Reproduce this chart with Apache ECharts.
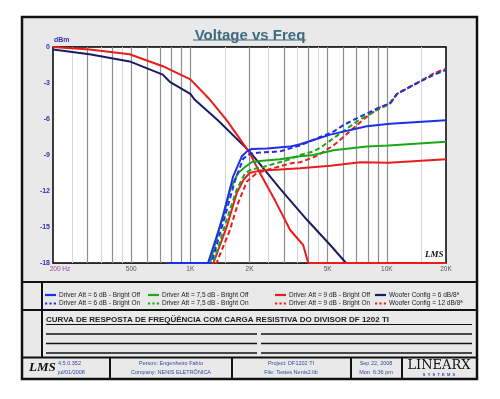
<!DOCTYPE html>
<html>
<head>
<meta charset="utf-8">
<script src="https://cdn.jsdelivr.net/npm/echarts@6/dist/echarts.min.js"></script>
<style>
  html, body { margin: 0; padding: 0; background: #fff; }
  #chart { width: 500px; height: 399px; }
</style>
</head>
<body>
<div id="chart"></div>
<script>
// frequency (Hz), level (dBm)
var driver6Off = [[760, -18], [1230, -18], [1470, -14.1], [1650, -10.8], [1830, -9.1], [1940, -8.7], [2050, -8.5], [2450, -8.45], [3220, -8.3], [3620, -8.1], [4230, -7.75], [5150, -7.3], [7900, -6.6], [10400, -6.4], [20000, -6.1]]
var driver6On = [[760, -18], [1280, -18], [1500, -14.1], [1690, -11.1], [1860, -9.3], [2010, -8.9], [2260, -8.8], [2860, -8.7], [3620, -8.2], [4580, -7.5], [5350, -7.05], [6020, -6.5], [7330, -5.8], [8240, -5.4], [9270, -5.0], [10400, -4.7], [11270, -3.9], [14260, -3.0], [17340, -2.3], [20000, -1.9]]
var driver75Off = [[760, -18], [1260, -18], [1410, -15], [1590, -11.9], [1750, -10.5], [1900, -10.0], [2050, -9.6], [2260, -9.5], [2860, -9.35], [3620, -9.1], [4230, -9.0], [5350, -8.6], [7900, -8.3], [10200, -8.2], [20000, -7.9]]
var driver75On = [[760, -18], [1310, -18], [1530, -14.4], [1720, -11.9], [1900, -10.5], [2050, -10.2], [2350, -10.0], [3220, -9.35], [3620, -9.0], [4230, -8.7], [4580, -8.4], [5150, -7.8], [5790, -7.2], [7050, -6.2], [8910, -5.25], [10200, -4.8], [11270, -3.9], [14260, -3.0], [17340, -2.3], [20000, -1.9]]
var driver9Off = [[760, -18], [1310, -18], [1530, -15], [1720, -12.2], [1860, -11.1], [2000, -10.5], [2260, -10.3], [2860, -10.2], [3620, -10.1], [5150, -9.9], [7330, -9.6], [10200, -9.65], [20000, -9.35]]
var driver9On = [[760, -18], [1360, -18], [1590, -15.25], [1750, -13.0], [1940, -11.2], [2180, -10.5], [2450, -10.25], [3220, -9.7], [3620, -9.6], [4230, -9.2], [4580, -8.9], [5350, -8.2], [6020, -7.5], [7050, -6.5], [7930, -5.8], [9270, -5.0], [10400, -4.7], [11270, -3.9], [14260, -3.0], [17340, -2.2], [20000, -1.8]]
var woofer6 = [[200, -0.2], [307, -0.6], [491, -1.2], [724, -2.3], [786, -2.9], [1000, -3.9], [1054, -4.4], [1380, -6.1], [2000, -8.7], [2860, -11.8], [3920, -14.4], [5150, -16.5], [6200, -18], [20000, -18]]
var woofer12 = [[200, 0], [307, -0.2], [491, -0.6], [724, -1.6], [1000, -2.7], [1260, -4.4], [1530, -6.1], [2000, -8.8], [2260, -10.5], [2700, -12.8], [3220, -15.25], [3750, -16.5], [3980, -18], [20000, -18]]

var majorGrid = [300, 400, 500, 600, 700, 800, 900, 1000, 2000, 3000, 4000, 5000, 6000, 7000, 8000, 9000, 10000]
var minorGrid = [250, 350, 450, 1500, 2500, 3500, 4500, 15000]
var freqTicks = [200, 500, 1000, 2000, 5000, 10000, 20000]
var freqTickLabels = ['200 Hz', '500', '1K', '2K', '5K', '10K', '20K']

var names = [
  'Driver Att = 6 dB - Bright Off', 'Driver Att = 6 dB - Bright On',
  'Driver Att = 7,5 dB - Bright Off', 'Driver Att = 7,5 dB - Bright On',
  'Driver Att = 9 dB - Bright Off', 'Driver Att = 9 dB - Bright On',
  'Woofer Config = 6 dB/8ª', 'Woofer Config = 12 dB/8ª'
]

var BLUE = '#1f2fe6'
var GREEN = '#18a818'
var RED = '#ea1c1c'
var NAVY = '#1c1c64'
var LABEL_BLUE = '#3232b4'
var FOOT_BLUE = '#34489c'

var SOLID_ICON = 'path://M0,0h10v2h-10z'
var DOTTED_ICON = 'path://M0,0h2v2h-2z M4,0h2v2h-2z M8,0h2v2h-2z'

function curve (name, data, color, dashed) {
  return {
    name: name,
    type: 'line',
    data: data,
    symbol: 'none',
    z: 3,
    lineStyle: { color: color, width: 2, type: dashed ? [5, 3] : 'solid' },
    itemStyle: { color: color }
  }
}

function legendCol (left, solidName, dottedName) {
  return {
    data: [{ name: solidName, icon: SOLID_ICON }, { name: dottedName, icon: DOTTED_ICON }],
    left: left,
    top: 291.5,
    orient: 'vertical',
    itemWidth: 11,
    itemHeight: 2.5,
    itemGap: 1.5,
    padding: 0,
    selectedMode: false,
    textStyle: { fontSize: 6.5, color: '#222', fontFamily: 'Arial', padding: [0, 0, 0, -2] }
  }
}

function hLine (x1, x2, y, w) {
  return { type: 'line', shape: { x1: x1, y1: y, x2: x2, y2: y }, style: { stroke: '#111', lineWidth: w || 2 } }
}
function vLine (x, y1, y2, w) {
  return { type: 'line', shape: { x1: x, y1: y1, x2: x, y2: y2 }, style: { stroke: '#111', lineWidth: w || 2 } }
}
function txt (x, y, text, font, fill, align) {
  return { type: 'text', z: 50, style: { x: x, y: y, text: text, font: font, fill: fill || '#222', textAlign: align || 'left', textVerticalAlign: 'middle' } }
}

var gridLines = majorGrid.map(function (f) {
  return { xAxis: f, lineStyle: { color: '#8e8e8e', width: 1.2, type: 'solid' } }
}).concat(minorGrid.map(function (f) {
  return { xAxis: f, lineStyle: { color: '#d6d6d6', width: 1, type: 'solid' } }
}))

var tickMarks = freqTicks.map(function (f, i) {
  return {
    xAxis: f,
    lineStyle: { color: 'rgba(0,0,0,0)', width: 0 },
    label: {
      show: true,
      position: 'start',
      distance: 3,
      formatter: freqTickLabels[i],
      color: i === 0 ? '#8a4a92' : '#555',
      padding: i === 0 ? [0, 0, 0, 14] : 0
    }
  }
})

var option = {
  animation: false,
  backgroundColor: '#fff',
  title: {
    text: 'Voltage vs Freq',
    left: 'center',
    top: 23,
    textStyle: { fontSize: 15, fontWeight: 'bold', color: '#3f6b7c', fontFamily: 'Arial' }
  },
  grid: {
    left: 53,
    top: 47,
    right: 54,
    bottom: 136,
    show: true,
    backgroundColor: '#fff',
    borderColor: '#000',
    borderWidth: 1.5,
    z: 1
  },
  xAxis: {
    type: 'log',
    logBase: 10,
    min: 200,
    max: 20000,
    axisLine: { show: false },
    axisTick: { show: false },
    axisLabel: { show: false },
    splitLine: { show: false }
  },
  yAxis: {
    type: 'value',
    min: -18,
    max: 0,
    interval: 3,
    name: 'dBm',
    nameLocation: 'end',
    nameGap: 1,
    nameTextStyle: { color: LABEL_BLUE, fontSize: 7, fontWeight: 'bold', fontFamily: 'Arial', align: 'left', padding: [0, 0, 0, 1] },
    axisLine: { show: false },
    axisTick: { show: false },
    axisLabel: { color: LABEL_BLUE, fontSize: 7, fontWeight: 'bold', fontFamily: 'Arial', margin: 3 },
    splitLine: { lineStyle: { color: '#8a8a8a', width: 1.5 } }
  },
  legend: [
    legendCol(45, names[0], names[1]),
    legendCol(148, names[2], names[3]),
    legendCol(275, names[4], names[5]),
    legendCol(375, names[6], names[7])
  ],
  series: [
    {
      type: 'line',
      data: [],
      silent: true,
      markLine: {
        z: 1,
        silent: true,
        symbol: 'none',
        label: { show: false, fontSize: 6.5, fontFamily: 'Arial' },
        data: gridLines.concat(tickMarks)
      }
    },
    curve(names[6], woofer6, NAVY, false),
    curve(names[7], woofer12, RED, false),
    curve(names[4], driver9Off, RED, false),
    curve(names[5], driver9On, RED, true),
    curve(names[2], driver75Off, GREEN, false),
    curve(names[3], driver75On, GREEN, true),
    curve(names[0], driver6Off, BLUE, false),
    curve(names[1], driver6On, BLUE, true)
  ],
  graphic: {
    elements: [
      { type: 'rect', z: -100, shape: { x: 22, y: 17, width: 455, height: 362 }, style: { fill: '#e9e9e9', stroke: '#111', lineWidth: 2.5 } },
      { type: 'line', shape: { x1: 193, y1: 40, x2: 306, y2: 40 }, style: { stroke: '#3f6b7c', lineWidth: 1.2 } },
      txt(425, 255, 'LMS', 'italic bold 9px "Liberation Serif"', '#111'),
      // legend / notes / footer frames
      hLine(22, 477, 282),
      hLine(22, 477, 310),
      hLine(22, 477, 357.5),
      vLine(42, 282, 357.5),
      vLine(110, 357.5, 379),
      vLine(232, 357.5, 379),
      vLine(351, 357.5, 379),
      vLine(402, 357.5, 379),
      txt(46, 319.5, 'CURVA DE RESPOSTA DE FREQÜÊNCIA COM CARGA RESISTIVA DO DIVISOR DF 1202 TI', 'bold 8px Arial', '#222'),
      hLine(46, 472, 324.5, 1.2),
      hLine(46, 257, 334, 1.5),
      hLine(261, 472, 334, 1.5),
      hLine(46, 257, 343.5, 1.5),
      hLine(261, 472, 343.5, 1.5),
      hLine(46, 257, 353, 1.5),
      hLine(261, 472, 353, 1.5),
      // footer
      txt(29, 368, 'LMS', 'italic bold 13px "Liberation Serif"', '#111'),
      txt(58, 363.5, '4.5.0.352', '5.5px Arial', FOOT_BLUE),
      txt(58, 372, 'jul/01/2008', '5.5px Arial', FOOT_BLUE),
      txt(171, 363.5, 'Person: Engenheiro Fabio', '5.5px Arial', FOOT_BLUE, 'center'),
      txt(171, 372, 'Company: NENIS ELETRÔNICA', '5.5px Arial', FOOT_BLUE, 'center'),
      txt(291, 363.5, 'Project: DF1202 TI', '5.5px Arial', FOOT_BLUE, 'center'),
      txt(291, 372, 'File: Testes Nenis2.lib', '5.5px Arial', FOOT_BLUE, 'center'),
      txt(376, 363.5, 'Sep 22, 2008', '5.5px Arial', FOOT_BLUE, 'center'),
      txt(376, 372, 'Mon  6:36 pm', '5.5px Arial', FOOT_BLUE, 'center'),
      txt(439, 366, 'LINEARX', '13px "DejaVu Serif"', '#111', 'center'),
      txt(439, 375, 'S  Y  S  T  E  M  S', 'bold 4px Arial', FOOT_BLUE, 'center')
    ]
  }
}

var myChart = echarts.init(document.getElementById('chart'))
myChart.setOption(option)
</script>
</body>
</html>
